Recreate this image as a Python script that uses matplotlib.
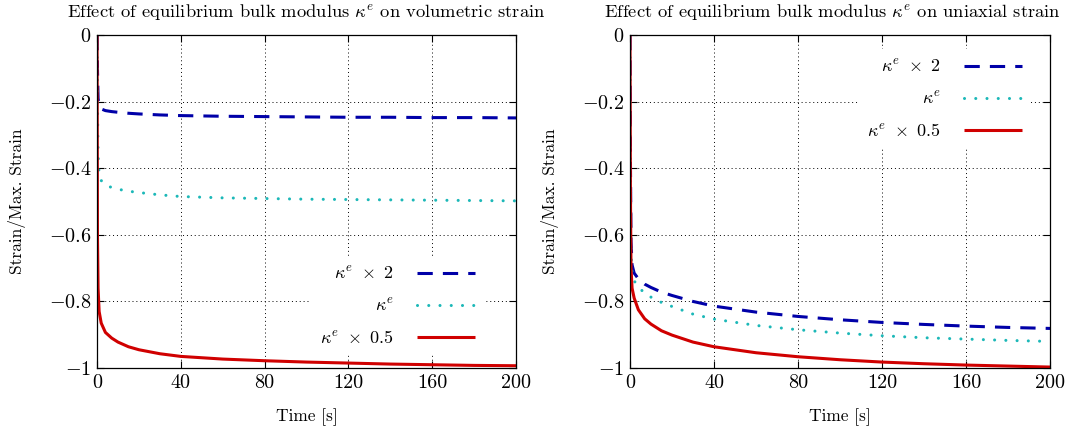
import matplotlib
matplotlib.use("Agg")
import matplotlib.pyplot as plt
import numpy as np

plt.rcParams['font.family'] = ['cmr10', 'DejaVu Serif']
plt.rcParams['mathtext.fontset'] = 'cm'
plt.rcParams['axes.unicode_minus'] = False

# ---- data ----
time_s = [0, 0.2, 0.5, 1, 2, 4, 7, 10, 15, 20, 30, 40, 60, 80, 100, 120, 140, 160, 180, 200]

vol_k2 = [0, -0.10, -0.19, -0.215, -0.222, -0.227, -0.230, -0.232, -0.235, -0.237, -0.240,
          -0.242, -0.244, -0.245, -0.246, -0.247, -0.247, -0.248, -0.248, -0.249]
vol_k1 = [0, -0.20, -0.36, -0.42, -0.437, -0.450, -0.458, -0.463, -0.469, -0.473, -0.480,
          -0.485, -0.489, -0.491, -0.493, -0.494, -0.495, -0.496, -0.497, -0.498]
vol_k05 = [0, -0.60, -0.76, -0.83, -0.865, -0.893, -0.910, -0.922, -0.936, -0.945, -0.957,
           -0.965, -0.973, -0.978, -0.982, -0.985, -0.988, -0.990, -0.992, -0.993]

uni_k2 = [0, -0.35, -0.62, -0.69, -0.715, -0.732, -0.748, -0.758, -0.772, -0.782, -0.800,
          -0.814, -0.832, -0.845, -0.855, -0.863, -0.869, -0.874, -0.878, -0.881]
uni_k1 = [0, -0.38, -0.65, -0.715, -0.738, -0.757, -0.775, -0.787, -0.803, -0.815, -0.838,
          -0.853, -0.872, -0.885, -0.895, -0.903, -0.909, -0.913, -0.917, -0.920]
uni_k05 = [0, -0.45, -0.70, -0.76, -0.79, -0.825, -0.852, -0.868, -0.888, -0.901, -0.922,
           -0.936, -0.954, -0.966, -0.975, -0.982, -0.987, -0.991, -0.994, -0.997]

series_labels = [r'$\kappa^e\ \times\ 2$', r'$\kappa^e$', r'$\kappa^e\ \times\ 0.5$']
titles = [r'Effect of equilibrium bulk modulus $\kappa^e$ on volumetric strain',
          r'Effect of equilibrium bulk modulus $\kappa^e$ on uniaxial strain']
xticks = [0, 40, 80, 120, 160, 200]
xtick_labels = ['0', '40', '80', '120', '160', '200']
yticks = [0, -0.2, -0.4, -0.6, -0.8, -1]
ytick_labels = [r'$0$', r'$-0.2$', r'$-0.4$', r'$-0.6$', r'$-0.8$', r'$-1$']

colors = ['#0000a8', '#1cb8b8', '#d00000']
styles = [(0, (5, 3.3)), (0, (0.01, 3.67)), '-']
capstyles = ['butt', 'round', 'butt']

fig = plt.figure(figsize=(10.71, 4.32), dpi=100)
ax1 = fig.add_axes([0.0906, 0.148, 0.3912, 0.771])
ax2 = fig.add_axes([0.5882, 0.148, 0.3922, 0.771])

def setup(ax, data, title, title_x, legend_anchor):
    for y, c, ls, cs, lab in zip(data, colors, styles, capstyles, series_labels):
        ax.plot(time_s, y, color=c, linestyle=ls, linewidth=2.2, label=lab,
                dash_capstyle=cs, solid_capstyle='butt')
    ax.set_xlim(0, 200)
    ax.set_ylim(-1, 0)
    ax.set_xticks(xticks)
    ax.set_xticklabels(xtick_labels)
    ax.set_yticks(yticks)
    ax.set_yticklabels(ytick_labels)
    ax.tick_params(direction='in', top=True, right=True, length=5, width=0.8,
                   labelsize=14.5, pad=4)
    ax.grid(True, color='black', linestyle=(0, (1, 3)), linewidth=0.7)
    ax.set_title(title, fontsize=13.3, pad=12.5, x=title_x)
    ax.set_xlabel('Time [s]', fontsize=12.5, labelpad=12)
    ax.set_ylabel('Strain/Max. Strain', fontsize=12.5, labelpad=16)
    for sp in ax.spines.values():
        sp.set_linewidth(0.9)
    leg = ax.legend(loc='upper right', bbox_to_anchor=legend_anchor, frameon=True,
                    markerfirst=False, handlelength=3.2, labelspacing=0.82,
                    fontsize=13, borderpad=0.5, handletextpad=1.3, borderaxespad=0)
    leg.get_frame().set_edgecolor('none')
    leg.get_frame().set_facecolor('white')
    leg.get_frame().set_alpha(1)
    leg.get_frame().set_boxstyle('square', pad=0)

setup(ax1, [vol_k2, vol_k1, vol_k05], titles[0], 0.5, (0.924, 0.336))
setup(ax2, [uni_k2, uni_k1, uni_k05], titles[1], 0.482, (0.955, 0.958))

fig.savefig('out.png', dpi=100)
